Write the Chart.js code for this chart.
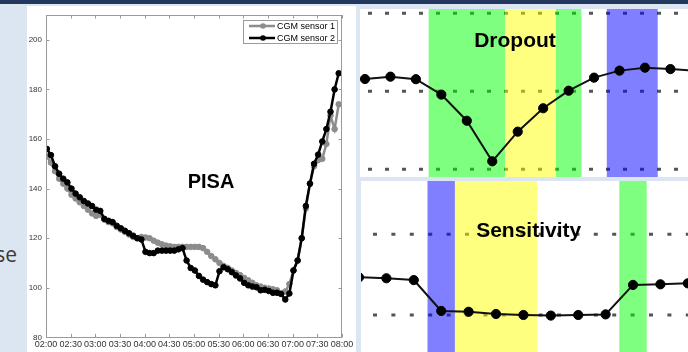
<!DOCTYPE html>
<html>
<head>
<meta charset="utf-8">
<script src="https://cdn.jsdelivr.net/npm/chart.js@4.4.1/dist/chart.umd.min.js"></script>
<style>
html,body{margin:0;padding:0;}
body{width:688px;height:352px;background:#dce6f2;position:relative;overflow:hidden;font-family:"Liberation Sans",Arial,sans-serif;}
#topbar{position:absolute;left:0;top:0;width:688px;height:4px;background:#22385e;}
.panel{position:absolute;background:#fff;overflow:hidden;}
#leftWrap{left:27px;top:6px;width:329px;height:346px;}
#dropWrap{left:360px;top:9px;width:328px;height:168px;}
#sensWrap{left:361px;top:181px;width:327px;height:171px;}
#se{position:absolute;right:671px;top:244px;font-family:"Open Sans",sans-serif;font-size:21px;line-height:21px;color:#3a3a3a;white-space:nowrap;}
canvas{display:block;}
</style>
</head>
<body>
<div id="topbar"></div>
<div id="se">se</div>
<div class="panel" id="leftWrap"><canvas id="pisa" width="329" height="346"></canvas></div>
<div class="panel" id="dropWrap"><canvas id="drop" width="328" height="168"></canvas></div>
<div class="panel" id="sensWrap"><canvas id="sens" width="327" height="171"></canvas></div>
<script>
// ---------- main chart data ----------
const timeTickLabels = ['02:00','02:30','03:00','03:30','04:00','04:30','05:00','05:30','06:00','06:30','07:00','07:30','08:00'];
const yTickValues = [80,100,120,140,160,180,200];
const seriesNames = ['CGM sensor 1','CGM sensor 2'];
const sampleStartMin = 1;   // minutes after 02:00 of first sample
const sampleStepMin = 5;    // CGM sampling period
const cgmSensor1 = [
  153,150.5,147,144,142,140,137.5,136,134.5,133,
  131.5,130,129,129.5,127.5,126.5,126,124.5,123.5,122.5,
  121.5,120.5,120,120.5,120.3,120,119,118.2,117.5,117,
  116.7,116.5,116.5,116.5,116.5,116.5,116.5,116.5,116,114.5,
  112.8,111.5,110,108.8,108,107,106,105.1,104,103,
  102,101,100.5,100,99.7,99.4,99,97.8,98.5,101.5,
  107,111,120,132,142,149,151.5,152,158,169.5,
  164,174
];
const cgmSensor2 = [
  156,153.5,149,146,144,142.5,140,138,136.5,135,
  134,133,131.5,131,127.8,127,126.5,125,124,123,
  122,121,120,119.5,114.5,114,114,115,115,115,
  115,115,115.5,116,111,108,107,104.8,103.3,102.3,
  101.5,101,106.7,108.3,107.5,106.3,105,103.8,102,101,
  100.5,100.2,99,99.2,98.7,98,98,97.5,95.3,97.7,
  107,111,120,133,142,150,153.7,159,164,171,
  180,186.5
];

// ---------- schematic panels data ----------
const dropoutValues = [146.3,147.5,146.2,138.3,124.9,104.1,119.3,131.3,140.3,147.0,150.6,152.1,151.4,150.6];
const dropoutBandFrom = [2.5,5.5,7.5,9.5];
const dropoutBandTo   = [5.5,7.5,8.5,11.5];
const dropoutBandKind = ['green','yellow','green','blue'];
const dropoutRefLevels = [180,140,100];

const sensitivityValues = [118.7,118.2,117.3,102.0,101.6,100.5,100,99.7,100,100.3,114.9,115.2,115.7];
const sensitivityBandFrom = [2.5,3.5,9.5];
const sensitivityBandTo   = [3.5,6.5,10.5];
const sensitivityBandKind = ['blue','yellow','green'];
const sensitivityRefLevels = [140,100];

const bandFill = {green:'rgba(0,255,0,0.5)', yellow:'rgba(255,255,0,0.5)', blue:'rgba(0,0,255,0.5)'};
const FONT = '"Liberation Sans", Arial, sans-serif';

// ---------- main chart ----------
const toPts = arr => arr.map((v,i)=>({x: sampleStartMin + i*sampleStepMin, y: v}));

const framePlugin = {
  id:'frame',
  afterDatasetsDraw(chart){
    const {ctx, chartArea:a, scales:{x,y}} = chart;
    ctx.save();
    ctx.strokeStyle = '#9a9a9a'; ctx.lineWidth = 1;
    const L = 3.5;
    const seg=(x1,y1,x2,y2)=>{ctx.beginPath();ctx.moveTo(x1,y1);ctx.lineTo(x2,y2);ctx.stroke();};
    ctx.strokeRect(Math.round(a.left)+0.5, Math.round(a.top)+0.5, Math.round(a.right-a.left)-1, Math.round(a.bottom-a.top));
    timeTickLabels.forEach((lab,i)=>{
      const px = Math.round(x.getPixelForValue(i*30))+0.5;
      seg(px,a.bottom,px,a.bottom-L); seg(px,a.top,px,a.top+L);
    });
    yTickValues.forEach(v=>{
      const py = Math.round(y.getPixelForValue(v))+0.5;
      seg(a.left,py,a.left+L,py); seg(a.right,py,a.right-L,py);
    });
    ctx.restore();
  }
};

const legendPlugin = {
  id:'legendBox',
  afterDraw(chart){
    const {ctx, chartArea:a} = chart;
    const bw=95, bh=24, bx=Math.round(a.right)-4-bw, by=Math.round(a.top)+5;
    ctx.save();
    ctx.fillStyle='#fff'; ctx.fillRect(bx,by,bw,bh);
    ctx.strokeStyle='#9a9a9a'; ctx.lineWidth=1; ctx.strokeRect(bx+0.5,by+0.5,bw-1,bh-1);
    [1,0].forEach((di,row)=>{
      const ds = chart.data.datasets[di];
      const yy = by + 6 + row*12;
      ctx.strokeStyle = ds.borderColor; ctx.lineWidth = 2.5;
      ctx.beginPath(); ctx.moveTo(bx+6,yy); ctx.lineTo(bx+32,yy); ctx.stroke();
      ctx.fillStyle = ds.borderColor;
      ctx.beginPath(); ctx.arc(bx+20,yy,2.8,0,Math.PI*2); ctx.fill();
      ctx.fillStyle='#000'; ctx.font='9px '+FONT; ctx.textBaseline='middle'; ctx.textAlign='left';
      ctx.fillText(ds.label, bx+34, yy+0.5);
    });
    ctx.restore();
  }
};

const pisaLabel = {
  id:'pisaLabel',
  afterDraw(chart){
    const {ctx} = chart;
    ctx.save();
    ctx.font = 'bold 20px '+FONT; ctx.fillStyle='#000'; ctx.textAlign='center'; ctx.textBaseline='alphabetic';
    ctx.fillText('PISA', 184, 181.5);
    ctx.restore();
  }
};

new Chart(document.getElementById('pisa'), {
  type:'line',
  data:{datasets:[
    {label:seriesNames[1], data:toPts(cgmSensor2), borderColor:'#000', backgroundColor:'#000',
     borderWidth:2.5, pointRadius:2.8, pointBorderWidth:1, pointBorderColor:'#000', pointBackgroundColor:'#000', tension:0},
    {label:seriesNames[0], data:toPts(cgmSensor1), borderColor:'#8c8c8c', backgroundColor:'#8c8c8c',
     borderWidth:2.5, pointRadius:2.8, pointBorderWidth:1, pointBorderColor:'#8c8c8c', pointBackgroundColor:'#8c8c8c', tension:0}
  ]},
  options:{
    responsive:false, animation:false, events:[],
    layout:{autoPadding:false, padding:{top:9,right:14,left:0,bottom:0}},
    plugins:{legend:{display:false}, tooltip:{enabled:false}},
    scales:{
      x:{type:'linear', min:0, max:360,
         afterFit(s){ s.height = 14.6; },
         grid:{display:false, drawTicks:false, tickLength:0}, border:{display:false},
         ticks:{stepSize:30, autoSkip:false, maxRotation:0, minRotation:0, padding:2, color:'#333',
                font:{family:FONT, size:9},
                callback:(v)=> { const i = Math.round(v/30); return (Math.abs(v-i*30)<1e-6 && timeTickLabels[i]) ? timeTickLabels[i] : ''; }}},
      y:{type:'linear', min:80, max:210,
         afterFit(s){ s.width = 19; },
         grid:{display:false, drawTicks:false, tickLength:0}, border:{display:false},
         ticks:{stepSize:20, padding:4, color:'#333', font:{family:FONT, size:8},
                callback:(v)=> yTickValues.includes(v) ? String(v) : ''}}
    }
  },
  plugins:[framePlugin, legendPlugin, pisaLabel]
});

// ---------- schematic panels ----------
function schematic(id, values, xr, yr, refLevels, bFrom, bTo, bKind, dash, dashOffset, label, lx, ly){
  const bandsPlugin = {
    id:'bands',
    beforeDatasetDraw(chart, args){
      if (args.index !== 0) return;
      const {ctx, chartArea:a, scales:{x}} = chart;
      ctx.save();
      bFrom.forEach((f,i)=>{
        const x1 = x.getPixelForValue(f), x2 = x.getPixelForValue(bTo[i]);
        ctx.fillStyle = bandFill[bKind[i]];
        ctx.fillRect(x1, a.top, x2-x1, a.bottom-a.top);
      });
      ctx.restore();
    }
  };
  const textPlugin = {
    id:'panelText',
    afterDraw(chart){
      const ctx = chart.ctx;
      ctx.save();
      ctx.font = 'bold 21px '+FONT; ctx.fillStyle='#000'; ctx.textAlign='center'; ctx.textBaseline='alphabetic';
      ctx.fillText(label, lx, ly);
      ctx.restore();
    }
  };
  const datasets = [{
    data: values.map((v,i)=>({x:i, y:v})),
    borderColor:'#111', borderWidth:2, tension:0,
    pointRadius:4.6, pointBackgroundColor:'#000', pointBorderColor:'#000', pointBorderWidth:1
  }];
  refLevels.forEach(l=>datasets.push({
    data:[{x:xr[0],y:l},{x:xr[1],y:l}],
    borderColor:'#555', borderWidth:3, borderDash:dash, borderDashOffset:dashOffset, pointRadius:0
  }));
  new Chart(document.getElementById(id), {
    type:'line',
    data:{datasets},
    options:{
      responsive:false, animation:false, events:[],
      layout:{autoPadding:false, padding:0},
      plugins:{legend:{display:false}, tooltip:{enabled:false}},
      scales:{
        x:{type:'linear', display:false, min:xr[0], max:xr[1]},
        y:{type:'linear', display:false, min:yr[0], max:yr[1]}
      }
    },
    plugins:[bandsPlugin, textPlugin]
  });
}

schematic('drop', dropoutValues, [-0.196, 12.69], [96.05, 182.2], dropoutRefLevels,
  dropoutBandFrom, dropoutBandTo, dropoutBandKind, [4,13], 9, 'Dropout', 155, 37.7);
schematic('sens', sensitivityValues, [0.073, 12.007], [81.66, 166.4], sensitivityRefLevels,
  sensitivityBandFrom, sensitivityBandTo, sensitivityBandKind, [4,14.4], 6.4, 'Sensitivity', 167.7, 55.7);
</script>
</body>
</html>
